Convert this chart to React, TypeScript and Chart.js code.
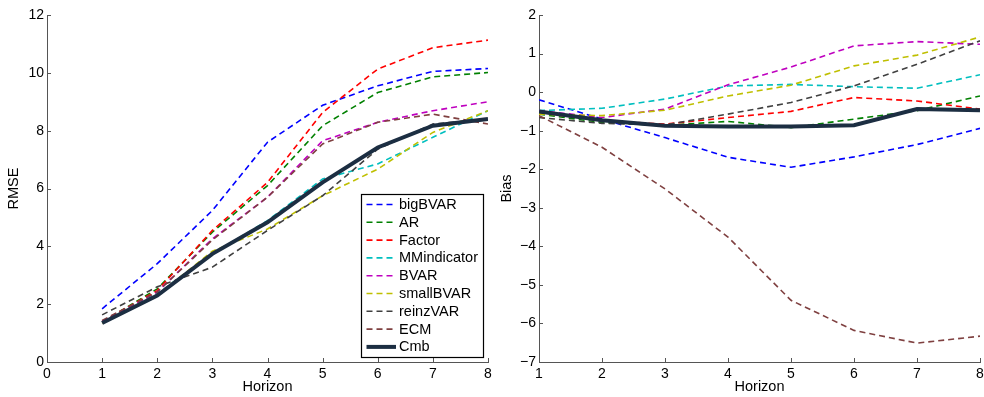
import React, { useEffect, useRef } from "react";
import { Chart, registerables } from "chart.js";

Chart.register(...registerables);

const horizons = [1, 2, 3, 4, 5, 6, 7, 8];
const seriesNames = ["bigBVAR", "AR", "Factor", "MMindicator", "BVAR", "smallBVAR", "reinzVAR", "ECM", "Cmb"];
const seriesColors = ["#0000ff", "#008000", "#ff0000", "#00bfbf", "#bf00bf", "#bfbf00", "#404040", "#7f4040", "#1c2e42"];

// RMSE values per model (horizons 1..8)
const rmseBigBVAR = [1.84, 3.4, 5.24, 7.6, 8.88, 9.55, 10.05, 10.15];
const rmseAR = [1.38, 2.53, 4.49, 6.1, 8.17, 9.32, 9.86, 10.01];
const rmseFactor = [1.4, 2.47, 4.55, 6.21, 8.63, 10.13, 10.87, 11.13];
const rmseMMindicator = [1.38, 2.36, 3.74, 4.89, 6.33, 6.85, 7.77, 8.69];
const rmseBVAR = [1.4, 2.42, 4.26, 5.7, 7.65, 8.29, 8.69, 9.0];
const rmseSmallBVAR = [1.35, 2.3, 3.83, 4.6, 5.75, 6.67, 7.94, 8.69];
const rmseReinzVAR = [1.63, 2.6, 3.28, 4.55, 5.75, 7.36, 8.23, 8.4];
const rmseECM = [1.44, 2.42, 4.22, 5.7, 7.54, 8.29, 8.57, 8.23];
const rmseCmb = [1.35, 2.3, 3.74, 4.83, 6.21, 7.42, 8.17, 8.4];

// Bias values per model (horizons 1..8)
const biasBigBVAR = [-0.2, -0.7, -1.18, -1.69, -1.95, -1.68, -1.36, -0.94];
const biasAR = [-0.57, -0.79, -0.86, -0.76, -0.92, -0.7, -0.48, -0.1];
const biasFactor = [-0.53, -0.74, -0.83, -0.66, -0.5, -0.14, -0.23, -0.44];
const biasMMindicator = [-0.48, -0.42, -0.18, 0.16, 0.2, 0.14, 0.1, 0.45];
const biasBVAR = [-0.48, -0.66, -0.44, 0.19, 0.65, 1.2, 1.31, 1.24];
const biasSmallBVAR = [-0.57, -0.61, -0.47, -0.1, 0.18, 0.68, 0.96, 1.43];
const biasReinzVAR = [-0.66, -0.81, -0.85, -0.57, -0.27, 0.16, 0.72, 1.33];
const biasECM = [-0.61, -1.43, -2.51, -3.76, -5.4, -6.18, -6.51, -6.33];
const biasCmb = [-0.5, -0.73, -0.87, -0.89, -0.89, -0.86, -0.44, -0.47];

const rmseSeries = [rmseBigBVAR, rmseAR, rmseFactor, rmseMMindicator, rmseBVAR, rmseSmallBVAR, rmseReinzVAR, rmseECM, rmseCmb];
const biasSeries = [biasBigBVAR, biasAR, biasFactor, biasMMindicator, biasBVAR, biasSmallBVAR, biasReinzVAR, biasECM, biasCmb];

const FONT = "'Liberation Sans', Arial, sans-serif";
const AXIS_COLOR = "#555555";

function buildDatasets(series: number[][]) {
  return series.map((vals, i) => {
    const isCmb = seriesNames[i] === "Cmb";
    return {
      label: seriesNames[i],
      data: horizons.map((h, j) => ({ x: h, y: vals[j] })),
      borderColor: seriesColors[i],
      backgroundColor: seriesColors[i],
      borderWidth: isCmb ? 4 : 1.6,
      borderDash: isCmb ? [] : [6, 4],
      pointRadius: 0,
      tension: 0,
      fill: false,
      order: series.length - 1 - i,
    };
  });
}

const inwardTicks = {
  id: "inwardTicks",
  afterDraw(chart: any) {
    const ctx = chart.ctx;
    const { left, bottom } = chart.chartArea;
    ctx.save();
    ctx.strokeStyle = AXIS_COLOR;
    ctx.lineWidth = 1;
    const xs = chart.scales.x;
    xs.ticks.forEach((t: any) => {
      const px = Math.round(xs.getPixelForValue(t.value)) + 0.5;
      ctx.beginPath();
      ctx.moveTo(px, bottom);
      ctx.lineTo(px, bottom - 4);
      ctx.stroke();
    });
    const ys = chart.scales.y;
    ys.ticks.forEach((t: any) => {
      const py = Math.round(ys.getPixelForValue(t.value)) + 0.5;
      ctx.beginPath();
      ctx.moveTo(left, py);
      ctx.lineTo(left + 4, py);
      ctx.stroke();
    });
    ctx.restore();
  },
};

const boxLegend = {
  id: "boxLegend",
  afterDraw(chart: any) {
    const opts = chart.options.plugins.boxLegend;
    if (!opts || !opts.show) return;
    const ctx = chart.ctx;
    const x0 = 361, y0 = 194, w = 122, h = 163;
    ctx.save();
    ctx.fillStyle = "#ffffff";
    ctx.fillRect(x0, y0, w, h);
    ctx.strokeStyle = "#000000";
    ctx.lineWidth = 1.2;
    ctx.strokeRect(x0 + 0.5, y0 + 0.5, w, h);
    ctx.font = `14.5px ${FONT}`;
    ctx.textBaseline = "middle";
    ctx.textAlign = "left";
    chart.data.datasets.forEach((ds: any, i: number) => {
      const cy = y0 + 10.5 + i * 17.8;
      ctx.strokeStyle = ds.borderColor;
      ctx.lineWidth = ds.borderWidth;
      ctx.setLineDash(ds.borderDash);
      ctx.beginPath();
      ctx.moveTo(366.5, cy);
      ctx.lineTo(396, cy);
      ctx.stroke();
      ctx.setLineDash([]);
      ctx.fillStyle = "#000000";
      ctx.fillText(ds.label, 399, cy + 0.5);
    });
    ctx.restore();
  },
};

function makeConfig(series: number[][], xmin: number, ymin: number, ymax: number, ytitle: string, legend: boolean, ytitlePad: number): any {
  return {
    type: "line",
    data: { datasets: buildDatasets(series) },
    options: {
      animation: false,
      responsive: false,
      maintainAspectRatio: false,
      layout: { padding: { left: 0, right: 4, top: 15, bottom: 0 } },
      plugins: {
        legend: { display: false },
        tooltip: { enabled: false },
        boxLegend: { show: legend },
      },
      scales: {
        x: {
          type: "linear",
          min: xmin,
          max: 8,
          afterFit: (s: any) => {
            s.height = 35;
            s.paddingLeft = 0;
            s.paddingRight = 0;
          },
          ticks: {
            stepSize: 1,
            color: "#000",
            font: { family: FONT, size: 14 },
            padding: 4,
            maxRotation: 0,
          },
          grid: { display: true, drawOnChartArea: false, drawTicks: false, color: AXIS_COLOR },
          border: { display: true, color: AXIS_COLOR, width: 1 },
          title: {
            display: true,
            text: "Horizon",
            color: "#000",
            font: { family: FONT, size: 14.5 },
            padding: { top: 0, bottom: 1 },
          },
        },
        y: {
          type: "linear",
          min: ymin,
          max: ymax,
          afterFit: (s: any) => {
            s.width = 47;
            s.paddingTop = 0;
            s.paddingBottom = 0;
          },
          ticks: {
            stepSize: ymax - ymin > 10 ? 2 : 1,
            color: "#000",
            font: { family: FONT, size: 14 },
            padding: 3,
            callback: (v: any) => String(v).replace("-", "\u2212"),
          },
          grid: { display: true, drawOnChartArea: false, drawTicks: false, color: AXIS_COLOR },
          border: { display: true, color: AXIS_COLOR, width: 1 },
          title: {
            display: true,
            text: ytitle,
            color: "#000",
            font: { family: FONT, size: 14.5 },
            padding: { top: ytitlePad, bottom: 0 },
          },
        },
      },
    },
    plugins: [inwardTicks, boxLegend],
  };
}

export default function App() {
  const leftRef = useRef<HTMLCanvasElement>(null);
  const rightRef = useRef<HTMLCanvasElement>(null);

  useEffect(() => {
    const c1 = new Chart(leftRef.current as HTMLCanvasElement, makeConfig(rmseSeries, 0, 0, 12, "RMSE", true, 5));
    const c2 = new Chart(rightRef.current as HTMLCanvasElement, makeConfig(biasSeries, 1, -7, 2, "Bias", false, 6));
    return () => {
      c1.destroy();
      c2.destroy();
    };
  }, []);

  return (
    <div style={{ position: "absolute", left: 0, top: 0, width: 984, height: 397, background: "#fff" }}>
      <canvas ref={leftRef} width={492} height={397} style={{ position: "absolute", left: 0, top: 0, width: 492, height: 397 }} />
      <canvas ref={rightRef} width={492} height={397} style={{ position: "absolute", left: 492, top: 0, width: 492, height: 397 }} />
    </div>
  );
}
